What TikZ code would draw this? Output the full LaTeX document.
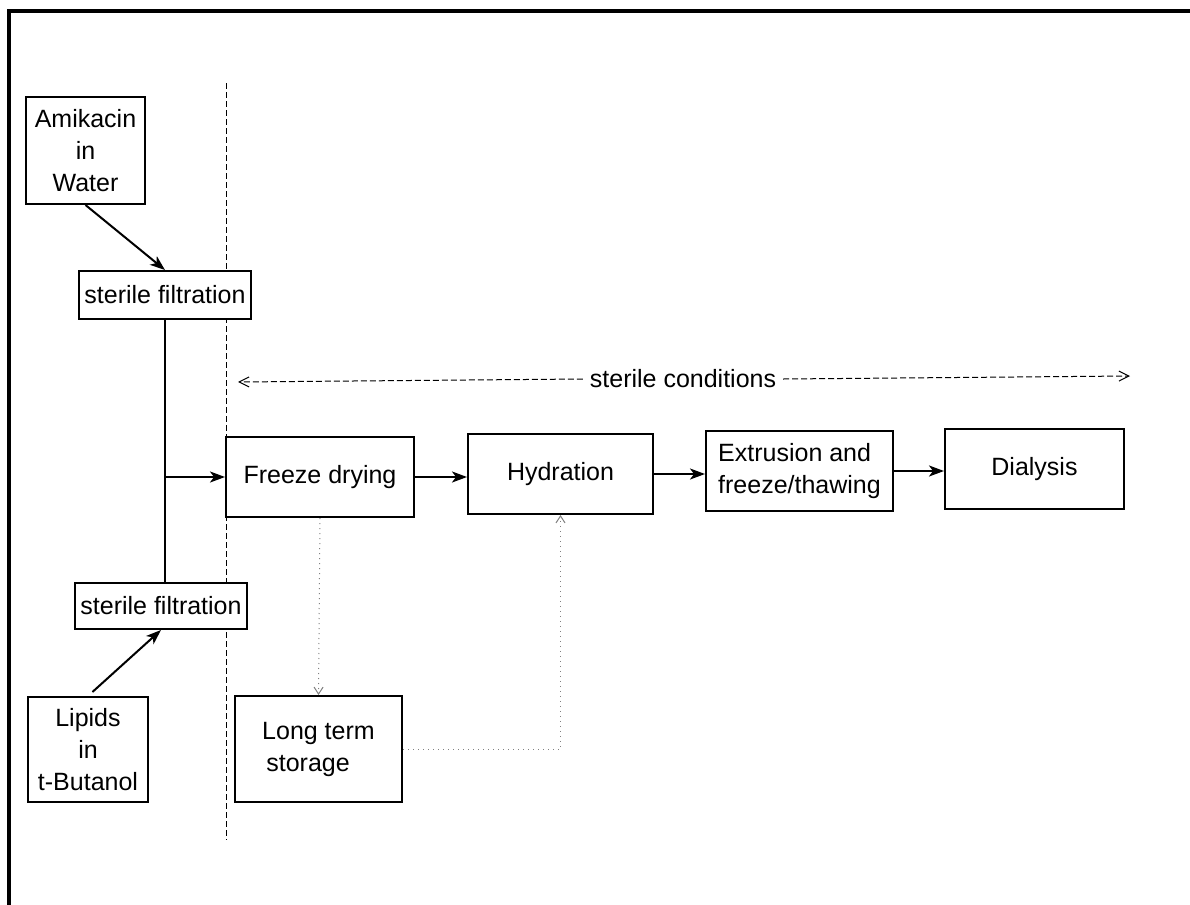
\documentclass[tikz,border=0pt]{standalone}
\usepackage{fontspec}
\setmainfont{Liberation Sans}
\usetikzlibrary{arrows.meta}

\tikzset{
  stepbox/.style={draw, fill=white, line width=1pt, inner sep=0pt,
    font=\fontsize{12.5}{16}\selectfont},
  flow/.style={line width=1pt, -{Stealth[length=7.5pt,width=5.5pt,inset=2pt]}},
  dotflow/.style={gray, line width=0.5pt, dotted, -{Straight Barb[length=3.5pt,width=4.5pt]}},
}

\begin{document}
\begin{tikzpicture}[x=0.5pt, y=-0.5pt]
  \useasboundingbox (0,0) rectangle (1190,905);

  % frame
  \draw[line width=1.6pt] (1190,11) -- (9,11) -- (9,905);

  % sterile border
  \coordinate (bt) at (226,83);
  \coordinate (bb) at (226,840);
  \draw[line width=0.5pt, dash pattern=on 3pt off 1.5pt] (bt) -- (bb);

  \node[stepbox, align=center, minimum width=59.5pt, minimum height=53.5pt] (amik) at (85.5,150.5) {Amikacin\\in\\Water};
  \node[stepbox, minimum width=86pt, minimum height=24pt] (sftop) at (165,295) {sterile filtration};
  \node[stepbox, minimum width=86pt, minimum height=23pt] (sfbot) at (161,606) {sterile filtration};
  \node[stepbox, align=center, minimum width=60pt, minimum height=52.5pt] (lip) at (88,749.5) {Lipids\\in\\t-Butanol};

  \node[stepbox, minimum width=94pt, minimum height=40pt] (fd) at (320,477) {Freeze drying};
  \node[stepbox, minimum width=92.5pt, minimum height=40pt] (hyd) at (560.5,474) {Hydration};
  \node[stepbox, align=left, minimum width=93.5pt, minimum height=40pt] (ext) at (799.5,471) {Extrusion and\\freeze/thawing};
  \node[stepbox, minimum width=89.5pt, minimum height=40pt] (dial) at (1034.5,469) {Dialysis};
  \node[stepbox, align=left, minimum width=83.5pt, minimum height=53pt] (lts) at (318.5,749) {Long term\\\,storage};

  % sterile conditions
  \node[font=\fontsize{12.5}{16}\selectfont] (sc) at (683,379) {sterile conditions};
  \coordinate (scl) at (238,382);
  \coordinate (scr) at (1130,376);
  \draw[line width=0.5pt, dash pattern=on 3pt off 1.5pt, -{Straight Barb[length=5pt,width=5pt]}] (sc.west) -- (scl);
  \draw[line width=0.5pt, dash pattern=on 3pt off 1.5pt, -{Straight Barb[length=5pt,width=5pt]}] (sc.east) -- (scr);

  \draw[flow] (amik.south) -- (sftop.north);
  \draw[flow, shorten <=3pt] (lip.north) -- (sfbot.south);
  \draw[line width=1pt] (sftop.south) -- (sftop.south |- sfbot.north);
  \draw[flow] (sftop.south |- fd.west) -- (fd.west);

  \draw[flow] (fd.east) -- (fd.east -| hyd.west);
  \draw[flow] (hyd.east) -- (hyd.east -| ext.west);
  \draw[flow] (ext.east) -- (ext.east -| dial.west);

  \draw[dotflow] (fd.south) -- (lts.north);
  \draw[dotflow] (lts.east) -| (hyd.south);
\end{tikzpicture}
\end{document}
